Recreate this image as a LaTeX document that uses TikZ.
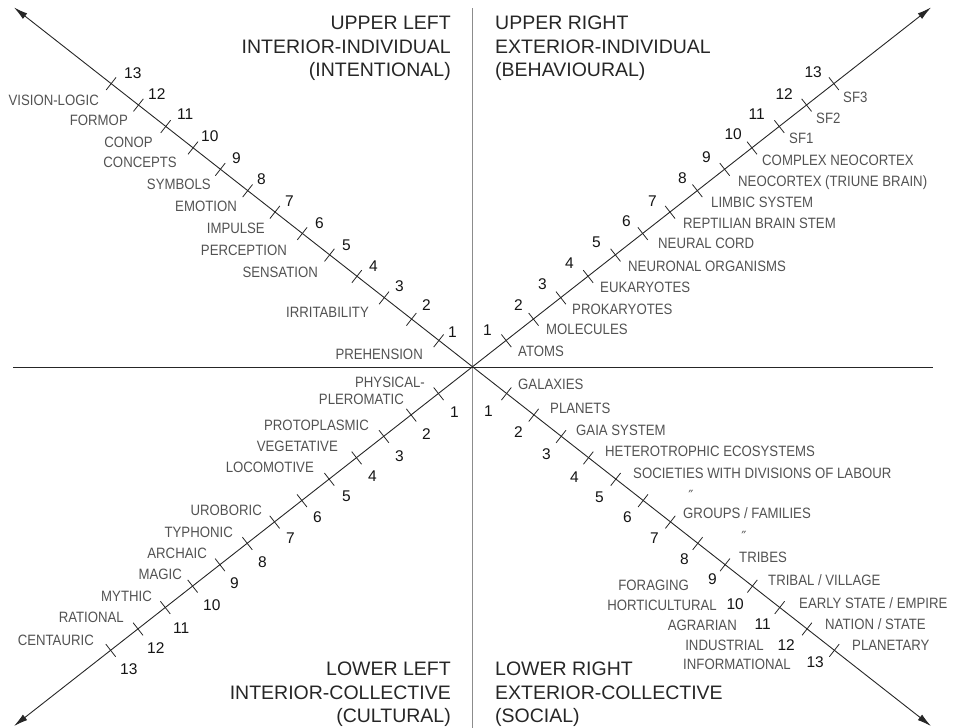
\documentclass[tikz,border=0pt]{standalone}
\usepackage{fontspec}
\setmainfont{Liberation Sans}
\newfontfamily\lblfont{Liberation Sans}[FakeStretch=0.88]
\newfontfamily\dittofont{DejaVu Sans}
\usetikzlibrary{calc,arrows.meta}
\tikzset{
  hdr/.style={font=\fontsize{19.5}{24}\selectfont, text=black!85, inner sep=0pt},
  lbl/.style={font=\lblfont\fontsize{15}{18}\selectfont, text=black!68, inner sep=0pt},
  num/.style={font=\fontsize{15.5}{18}\selectfont, text=black!92, inner sep=0pt},
  ditto/.style={font=\dittofont\fontsize{14}{14}\selectfont, text=black!68, inner sep=0pt},
  diag/.style={line width=0.9pt, black!85, {Latex[length=14pt,width=7pt]}-{Latex[length=14pt,width=7pt]}},
  tickmark/.style={line width=0.8pt, black!85},
  hline/.style={line width=1pt, black!85},
  vline/.style={line width=1.8pt, black!45},
}
\begin{document}
\begin{tikzpicture}[x=1pt,y=-1pt]
\useasboundingbox (0,0) rectangle (953,728);
% axes
\coordinate (C) at (472.5,367.3);
\coordinate (ULtip) at (14,7.5);
\coordinate (URtip) at (931,7.5);
\coordinate (LLtip) at (14,726);
\coordinate (LRtip) at (931,726);
\coordinate (Vtop) at (472.5,8);
\coordinate (Vbot) at (472.5,728);
\coordinate (Hl) at (13,367.3);
\coordinate (Hr) at (933,367.3);
\draw[vline] (Vtop) -- (Vbot);
\draw[hline] (Hl) -- (Hr);
\draw[diag] (ULtip) -- (LRtip);
\draw[diag] (LLtip) -- (URtip);
% ticks
\foreach \q/\tip in {ul/ULtip, ur/URtip, ll/LLtip, lr/LRtip}{
  \foreach \k in {1,...,13}{
    \coordinate (\q t\k) at ($(C)!{43pt+34.7pt*(\k-1)}!(\tip)$);
    \draw[tickmark] ($(\q t\k)!8pt!90:(C)$) -- ($(\q t\k)!8pt!-90:(C)$);
  }
}
% headers
\node[hdr, anchor=base east] (ulh1) at (451,29.5) {UPPER LEFT};
\node[hdr, anchor=base east] (ulh2) at (451,53) {INTERIOR-INDIVIDUAL};
\node[hdr, anchor=base east] (ulh3) at (451,76.5) {(INTENTIONAL)};
\node[hdr, anchor=base west] (urh1) at (495,29.5) {UPPER RIGHT};
\node[hdr, anchor=base west] (urh2) at (495,53) {EXTERIOR-INDIVIDUAL};
\node[hdr, anchor=base west] (urh3) at (495,76.5) {(BEHAVIOURAL)};
\node[hdr, anchor=base east] (llh1) at (451,675) {LOWER LEFT};
\node[hdr, anchor=base east] (llh2) at (451,699) {INTERIOR-COLLECTIVE};
\node[hdr, anchor=base east] (llh3) at (451,722) {(CULTURAL)};
\node[hdr, anchor=base west] (lrh1) at (495,675) {LOWER RIGHT};
\node[hdr, anchor=base west] (lrh2) at (495,699) {EXTERIOR-COLLECTIVE};
\node[hdr, anchor=base west] (lrh3) at (495,722) {(SOCIAL)};
% upper left numbers
\foreach \n/\x/\y in {13/124/78, 12/148/99, 11/177/119, 10/201/141, 9/232/163, 8/257/184, 7/285/206, 6/315/228, 5/342/250, 4/369/271, 3/395/291, 2/422/310, 1/448/337}
  \node[num, anchor=base west] (uln\n) at (\x,\y) {\n};
% upper left labels
\node[lbl, anchor=base east] (ulA) at (99,105) {VISION-LOGIC};
\node[lbl, anchor=base east] (ulB) at (128,125) {FORMOP};
\node[lbl, anchor=base east] (ulC) at (153,147) {CONOP};
\node[lbl, anchor=base east] (ulD) at (177,167) {CONCEPTS};
\node[lbl, anchor=base east] (ulE) at (211,189) {SYMBOLS};
\node[lbl, anchor=base east] (ulF) at (237,211) {EMOTION};
\node[lbl, anchor=base east] (ulG) at (265,233) {IMPULSE};
\node[lbl, anchor=base east] (ulH) at (287,255) {PERCEPTION};
\node[lbl, anchor=base east] (ulI) at (318,277) {SENSATION};
\node[lbl, anchor=base east] (ulJ) at (369,317) {IRRITABILITY};
\node[lbl, anchor=base east] (ulK) at (423,359) {PREHENSION};
% upper right numbers
\foreach \n/\x/\y in {13/822/77, 12/793/99, 11/765/119, 10/742/139, 9/711/162, 8/687/183, 7/657/206, 6/631/226, 5/601/247, 4/574/268, 3/547/289, 2/523/310, 1/492/335}
  \node[num, anchor=base east] (urn\n) at (\x,\y) {\n};
% upper right labels
\node[lbl, anchor=base west] (urA) at (843,102) {SF3};
\node[lbl, anchor=base west] (urB) at (816,123) {SF2};
\node[lbl, anchor=base west] (urC) at (789,143) {SF1};
\node[lbl, anchor=base west] (urD) at (762,165) {COMPLEX NEOCORTEX};
\node[lbl, anchor=base west] (urE) at (738,186) {NEOCORTEX (TRIUNE BRAIN)};
\node[lbl, anchor=base west] (urF) at (711,207) {LIMBIC SYSTEM};
\node[lbl, anchor=base west] (urG) at (683,228) {REPTILIAN BRAIN STEM};
\node[lbl, anchor=base west] (urH) at (658,248) {NEURAL CORD};
\node[lbl, anchor=base west] (urI) at (628,271) {NEURONAL ORGANISMS};
\node[lbl, anchor=base west] (urJ) at (600,292) {EUKARYOTES};
\node[lbl, anchor=base west] (urK) at (572,314) {PROKARYOTES};
\node[lbl, anchor=base west] (urL) at (546,334) {MOLECULES};
\node[lbl, anchor=base west] (urM) at (518,356) {ATOMS};
% lower left numbers
\foreach \n/\x/\y in {1/450/417, 2/422/439, 3/395/461, 4/368/481, 5/342/501, 6/313/522, 7/286/543, 8/258/567, 9/230/588, 10/203/610, 11/173/633, 12/147/653, 13/120/674}
  \node[num, anchor=base west] (lln\n) at (\x,\y) {\n};
% lower left labels
\node[lbl, anchor=base east] (llA) at (425,387) {PHYSICAL-};
\node[lbl, anchor=base east] (llB) at (404,404) {PLEROMATIC};
\node[lbl, anchor=base east] (llC) at (369,430) {PROTOPLASMIC};
\node[lbl, anchor=base east] (llD) at (338,451) {VEGETATIVE};
\node[lbl, anchor=base east] (llE) at (314,472) {LOCOMOTIVE};
\node[lbl, anchor=base east] (llF) at (262,515) {UROBORIC};
\node[lbl, anchor=base east] (llG) at (233,537) {TYPHONIC};
\node[lbl, anchor=base east] (llH) at (207,558) {ARCHAIC};
\node[lbl, anchor=base east] (llI) at (182,579) {MAGIC};
\node[lbl, anchor=base east] (llJ) at (152,601) {MYTHIC};
\node[lbl, anchor=base east] (llK) at (124,622) {RATIONAL};
\node[lbl, anchor=base east] (llL) at (94,645) {CENTAURIC};
% lower right numbers
\foreach \n/\x/\y in {1/493/416, 2/523/437, 3/551/459, 4/579/482, 5/604/502, 6/632/522, 7/659/543, 8/689/564, 9/717/584, 10/744/609, 11/771/629, 12/795/650, 13/824/667}
  \node[num, anchor=base east] (lrn\n) at (\x,\y) {\n};
% lower right labels
\node[lbl, anchor=base west] (lrA) at (518,389) {GALAXIES};
\node[lbl, anchor=base west] (lrB) at (550,413) {PLANETS};
\node[lbl, anchor=base west] (lrC) at (576,435) {GAIA SYSTEM};
\node[lbl, anchor=base west] (lrD) at (605,456) {HETEROTROPHIC ECOSYSTEMS};
\node[lbl, anchor=base west] (lrE) at (633,478) {SOCIETIES WITH DIVISIONS OF LABOUR};
\node[ditto] (lrF) at (691,495) {″};
\node[lbl, anchor=base west] (lrG) at (683,518) {GROUPS / FAMILIES};
\node[ditto] (lrH) at (744,536) {″};
\node[lbl, anchor=base west] (lrI) at (739,562) {TRIBES};
\node[lbl, anchor=base west] (lrJ) at (768,585) {TRIBAL / VILLAGE};
\node[lbl, anchor=base west] (lrK) at (799,608) {EARLY STATE / EMPIRE};
\node[lbl, anchor=base west] (lrL) at (825,629) {NATION / STATE};
\node[lbl, anchor=base west] (lrM) at (852,650) {PLANETARY};
\node[lbl, anchor=base east] (lrN) at (689,590) {FORAGING};
\node[lbl, anchor=base east] (lrO) at (717,610) {HORTICULTURAL};
\node[lbl, anchor=base east] (lrP) at (737,630) {AGRARIAN};
\node[lbl, anchor=base east] (lrQ) at (764,650) {INDUSTRIAL};
\node[lbl, anchor=base east] (lrR) at (791,669) {INFORMATIONAL};
\end{tikzpicture}
\end{document}
